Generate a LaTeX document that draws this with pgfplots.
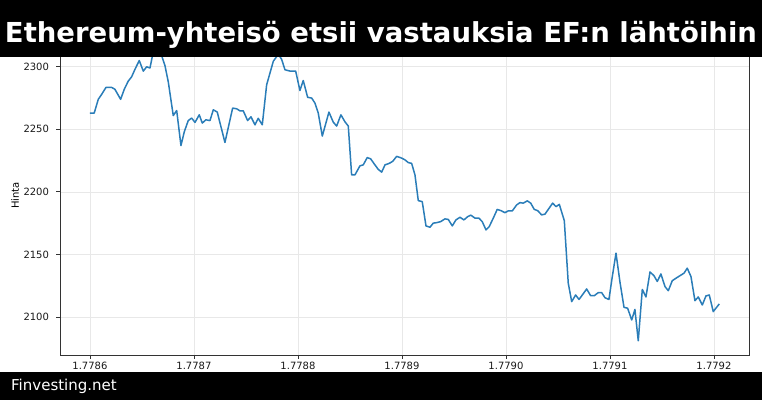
\documentclass[border=0pt]{standalone}
\usepackage{fontspec}
\setmainfont{DejaVu Sans}
\newfontfamily\titlefont{DejaVu Sans}
\usepackage{pgfplots}
\pgfplotsset{compat=1.18}
\definecolor{mplblue}{HTML}{2A7DB8}
\pgfplotstableread{
x v
0.000 2263
0.041 2263
0.080 2274
0.113 2278
0.154 2283.5
0.209 2283.5
0.240 2282
0.295 2274
0.330 2282
0.368 2288.5
0.401 2292
0.433 2298
0.474 2305
0.513 2296.5
0.545 2300
0.577 2299
0.609 2312
0.673 2313
0.721 2301
0.753 2288
0.801 2261
0.834 2265
0.875 2237
0.907 2248
0.945 2257
0.978 2259
1.010 2255.5
1.051 2261.6
1.080 2255
1.115 2257.6
1.154 2257
1.186 2265.6
1.224 2263.8
1.298 2239.5
1.372 2267
1.411 2266.4
1.442 2264.8
1.474 2264.8
1.516 2257
1.548 2260
1.587 2253.6
1.618 2258.8
1.657 2253.6
1.699 2285.6
1.731 2295
1.763 2304.4
1.811 2310
1.843 2306
1.875 2297.6
1.923 2296.6
1.978 2296.6
2.019 2281
2.051 2289
2.093 2275.6
2.132 2275
2.163 2271
2.195 2263
2.234 2244.6
2.298 2263.8
2.339 2255.8
2.372 2252.6
2.413 2261.6
2.452 2256
2.484 2252.6
2.516 2213.6
2.548 2213.6
2.596 2220.8
2.628 2221.6
2.666 2227.4
2.699 2226.4
2.740 2221.6
2.772 2218
2.805 2215.8
2.837 2221.6
2.878 2222.8
2.911 2224.4
2.949 2228.4
2.997 2227
3.029 2225.6
3.061 2223.4
3.093 2222.8
3.125 2213.6
3.157 2193
3.195 2192.2
3.231 2172.8
3.269 2171.7
3.301 2175
3.334 2175.4
3.372 2176.2
3.413 2178.4
3.445 2178
3.484 2172.8
3.519 2177.6
3.558 2179.7
3.596 2177.6
3.632 2180.2
3.663 2181.4
3.702 2179
3.740 2179
3.772 2176.2
3.808 2169.6
3.839 2172.2
3.878 2179
3.916 2186
3.952 2185
3.990 2183.4
4.022 2184.8
4.061 2184.8
4.103 2189.6
4.135 2191.4
4.166 2191
4.205 2192.8
4.238 2191
4.272 2186
4.305 2185
4.343 2181.6
4.375 2182.2
4.407 2186
4.449 2191
4.481 2188.2
4.513 2190
4.561 2177
4.599 2127
4.632 2112.3
4.670 2117.6
4.702 2114
4.738 2118
4.776 2122.4
4.814 2117
4.849 2117
4.888 2119.5
4.920 2119.5
4.952 2115.4
4.990 2114
5.022 2132
5.058 2151
5.096 2128
5.135 2107.7
5.170 2107
5.209 2097.6
5.240 2106
5.272 2081
5.311 2122
5.346 2116
5.385 2136
5.423 2133
5.455 2128.4
5.490 2134.4
5.529 2124.3
5.561 2121
5.599 2129
5.635 2131
5.673 2133
5.712 2135
5.743 2139
5.779 2132.3
5.817 2113
5.849 2116
5.888 2109.6
5.923 2116.8
5.955 2117.6
5.993 2104.3
6.051 2110.4
}\pricedata
\begin{document}
\begin{tikzpicture}[x=1pt,y=1pt]
\useasboundingbox (0,0) rectangle (762,400);
\begin{axis}[
  at={(60pt,45pt)}, anchor=south west,
  scale only axis, width=689pt, height=319pt,
  xmin=-0.288, xmax=6.337, ymin=2069.6, ymax=2324.6,
  xtick={0,1,2,3,4,5,6},
  xticklabels={1.7786,1.7787,1.7788,1.7789,1.7790,1.7791,1.7792},
  ytick={2100,2150,2200,2250,2300},
  grid=major,
  grid style={line width=0.6pt, black!9},
  axis line style={line width=0.9pt, black!80},
  tick style={line width=0.8pt, black!80},
  tick align=outside, major tick length=3.5pt,
  xtick pos=bottom, ytick pos=left,
  /pgf/number format/assume math mode=true,
  /pgf/number format/1000 sep={},
  tick label style={font=\fontsize{10}{10}\selectfont, black!90},
  yticklabel style={xshift=-4pt},
  ylabel={Hinta},
  ylabel style={font=\fontsize{10}{10}\selectfont, at={(axis description cs:-0.065,0.5)}, anchor=center},
]
\addplot[mplblue, line width=1.5pt, line join=round] table[x=x, y=v] {\pricedata};
\end{axis}
\fill[black] (0,343) rectangle (762,400);
\fill[black] (0,0) rectangle (762,28);
\node[anchor=base, white, inner sep=0pt] at (381,357.5) {\resizebox{752pt}{!}{\titlefont\bfseries\fontsize{27}{27}\selectfont Ethereum-yhteisö etsii vastauksia EF:n lähtöihin}};
\node[anchor=base west, white, inner sep=0pt, font=\fontsize{15}{15}\selectfont] at (11,10) {Finvesting.net};
\end{tikzpicture}
\end{document}
